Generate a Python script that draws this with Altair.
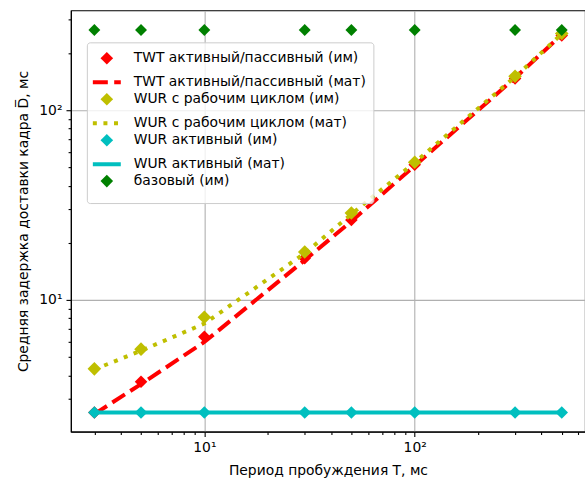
import altair as alt
import pandas as pd

T = [3, 5, 10, 30, 50, 100, 300, 500]
twt_im = [2.55, 3.7, 6.4, 16.6, 26.4, 51.6, 147, 248]
twt_mat = [2.5, 3.6, 6.0, 16.2, 26.0, 51.0, 148, 250]
wdc_im = [4.33, 5.5, 8.1, 17.9, 28.7, 53.2, 151, 254]
wdc_mat = [4.3, 5.4, 7.5, 17.6, 28.3, 53.0, 150, 252]
wact_im = [2.55, 2.55, 2.55, 2.55, 2.55, 2.55, 2.55, 2.55]
wact_mat = [2.55, 2.55, 2.55, 2.55, 2.55, 2.55, 2.55, 2.55]
base_im = [265, 265, 265, 265, 265, 265, 265, 265]

names = [
    "TWT активный/пассивный (им)",
    "TWT активный/пассивный (мат)",
    "WUR с рабочим циклом (им)",
    "WUR с рабочим циклом (мат)",
    "WUR активный (им)",
    "WUR активный (мат)",
    "базовый (им)",
]
colors = ["#ff0000", "#ff0000", "#bfbf00", "#bfbf00", "#00bfbf", "#00bfbf", "#008000"]
series_vals = [twt_im, twt_mat, wdc_im, wdc_mat, wact_im, wact_mat, base_im]

x_ticks = [3, 4, 5, 6, 7, 8, 9, 10, 20, 30, 40, 50, 60, 70, 80, 90, 100, 200, 300, 400, 500, 600]
y_ticks = [2, 3, 4, 5, 6, 7, 8, 9, 10, 20, 30, 40, 50, 60, 70, 80, 90, 100, 200, 300]

rows = []
for n, vals in zip(names, series_vals):
    for t, v in zip(T, vals):
        rows.append({"T": t, "D": v, "series": n})
df = pd.DataFrame(rows)

FONT = "DejaVu Sans"
FS = 13.9
major = "datum.value == 10 || datum.value == 100"
lab = "datum.value == 10 ? '10¹' : datum.value == 100 ? '10²' : ''"

DIAMOND = "M-0.9,0L0,-0.9L0.9,0L0,0.9Z"
LINE = "M-2,0L2,0"
is_im = [n.endswith("(им)") for n in names]

shape_scale = alt.Scale(domain=names, range=[DIAMOND if m else LINE for m in is_im])
fill_scale = alt.Scale(domain=names, range=colors)
stroke_scale = alt.Scale(domain=names, range=["transparent" if m else c for m, c in zip(is_im, colors)])
dash_scale = alt.Scale(domain=names, range=[[1, 0], [15, 6.4], [1, 0], [4, 6.6], [1, 0], [1, 0], [1, 0]])
leg = alt.Legend(title=None)

xenc = alt.X("T:Q", scale=alt.Scale(type="log", domain=[2.32, 645], nice=False),
             axis=alt.Axis(values=x_ticks, labelExpr=lab, labelOverlap=False,
                           title="Период пробуждения T, мс",
                           tickSize={"condition": {"test": major, "value": 4.9}, "value": 2.8},
                           gridOpacity={"condition": {"test": major, "value": 1}, "value": 0},
                           titlePadding=9))
yenc = alt.Y("D:Q", scale=alt.Scale(type="log", domain=[2.02, 336], nice=False),
             axis=alt.Axis(values=y_ticks, labelExpr=lab, labelOverlap=False,
                           title="Средняя задержка доставки кадра D\u0305, мс",
                           tickSize={"condition": {"test": major, "value": 4.9}, "value": 2.8},
                           gridOpacity={"condition": {"test": major, "value": 1}, "value": 0},
                           titlePadding=8))

base = alt.Chart(df).encode(x=xenc, y=yenc)
sizes = {"WUR с рабочим циклом (им)": 230, "базовый (им)": 175}

layers = []
for n, m in zip(names, is_im):
    f = base.transform_filter(alt.datum.series == n)
    if m:
        layers.append(f.mark_point(filled=True, size=sizes.get(n, 196), opacity=1).encode(
            fill=alt.Fill("series:N", scale=fill_scale, legend=leg),
            shape=alt.Shape("series:N", scale=shape_scale, legend=leg),
        ))
    else:
        layers.append(f.mark_line(strokeWidth=4, strokeCap="butt").encode(
            stroke=alt.Stroke("series:N", scale=stroke_scale, legend=leg),
            strokeDash=alt.StrokeDash("series:N", scale=dash_scale, legend=leg),
        ))

chart = alt.layer(*layers).properties(
    width=515, height=422,
    autosize=alt.AutoSizeParams(type="none"),
    padding={"left": 71, "top": 10, "right": 0, "bottom": 48},
).configure_view(stroke="black", strokeWidth=1.1).configure_axis(
    labelFont=FONT, labelFontSize=FS, labelColor="black",
    titleFont=FONT, titleFontSize=FS, titleFontWeight="normal", titleColor="black",
    domainColor="black", domainWidth=1.1, tickColor="black", tickWidth=1.1,
    gridColor="#b0b0b0", gridWidth=1.1, labelPadding=4,
).configure_legend(
    orient="none", legendX=16, legendY=32,
    labelFont=FONT, labelFontSize=FS, labelColor="black", labelLimit=0,
    symbolSize=196, symbolStrokeWidth=4, symbolOpacity=1, symbolOffset=4,
    rowPadding=-6.2, labelOffset=18, padding=7,
    fillColor="rgba(255,255,255,0.8)", strokeColor="#cccccc", cornerRadius=3,
    symbolLimit=0,
)

chart.save("out.html", embed_options={"renderer": "svg", "actions": False})
